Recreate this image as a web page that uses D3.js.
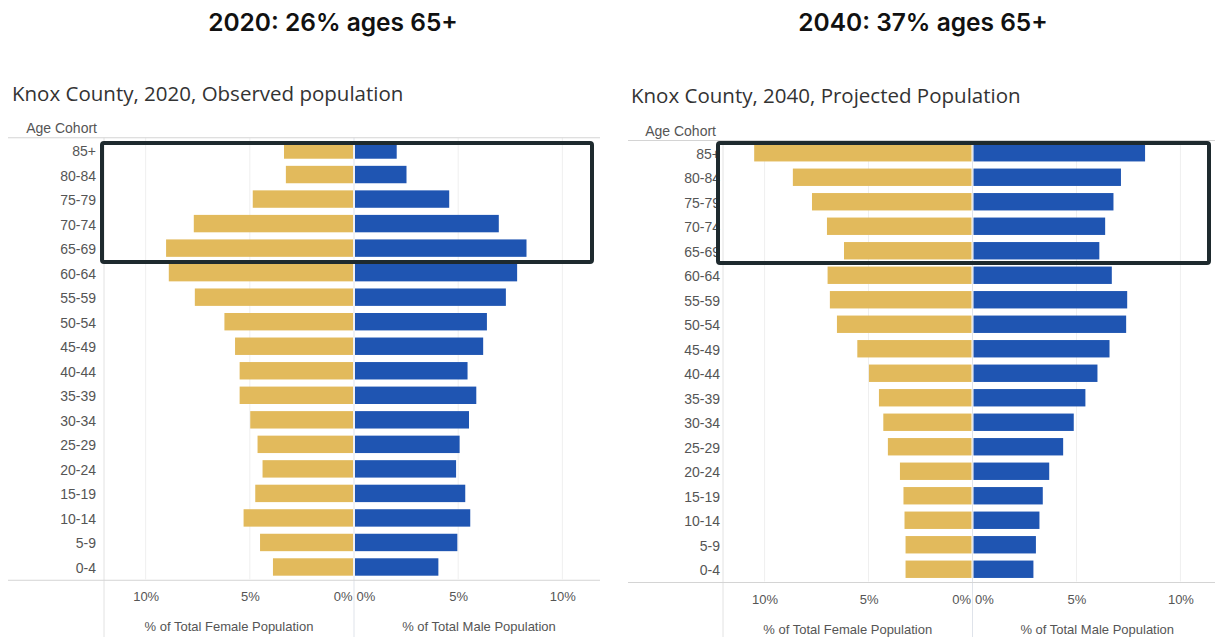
<!DOCTYPE html>
<html>
<head>
<meta charset="utf-8">
<script src="https://cdn.jsdelivr.net/npm/d3@7"></script>
<style>
  html, body { margin: 0; padding: 0; background: #fff; }
  svg { display: block; }
</style>
</head>
<body>
<svg id="chart" width="1215" height="637"></svg>
<script>
// ---- data ----
const ageGroups = ["85+","80-84","75-79","70-74","65-69","60-64","55-59","50-54","45-49","40-44","35-39","30-34","25-29","20-24","15-19","10-14","5-9","0-4"];
const female2020 = [3.36,3.27,4.86,7.69,9.02,8.89,7.64,6.22,5.71,5.49,5.49,4.98,4.63,4.39,4.74,5.30,4.51,3.89];
const male2020   = [2.05,2.52,4.57,6.95,8.28,7.83,7.29,6.38,6.20,5.45,5.87,5.52,5.07,4.90,5.34,5.58,4.96,4.05];
const female2040 = [10.5,8.64,7.72,7.00,6.18,6.97,6.86,6.52,5.54,4.98,4.50,4.29,4.07,3.49,3.32,3.27,3.22,3.22];
const male2040   = [8.30,7.14,6.78,6.38,6.10,6.70,7.44,7.39,6.59,6.01,5.43,4.87,4.36,3.69,3.38,3.22,3.05,2.93];
const tickValues = [0,5,10];
const headings = ["2020: 26% ages 65+","2040: 37% ages 65+"];
const subtitles = ["Knox County, 2020, Observed population","Knox County, 2040, Projected Population"];
const femaleAxisTitle = "% of Total Female Population";
const maleAxisTitle = "% of Total Male Population";
const rowHeader = "Age Cohort";

const FEMALE = "#E2BA5C", MALE = "#1F55B2";
const svg = d3.select("#chart");

function drawPyramid(cfg, female, male, heading, subtitle) {
  const g = svg.append("g");
  const xF = d3.scaleLinear().domain([0, 12]).range([cfg.cx, cfg.plotLeft]);
  const xM = d3.scaleLinear().domain([0, 12]).range([cfg.cx, cfg.cx + (cfg.cx - cfg.plotLeft)]);
  const y = d3.scaleBand().domain(ageGroups).range([cfg.bandTop, cfg.bandBottom]).paddingInner(0.29).paddingOuter(0.145);

  // heading
  g.append("text").attr("x", cfg.headX).attr("y", 31).attr("text-anchor", "middle")
    .attr("font-family", "Inter, 'Noto Sans', sans-serif").attr("font-weight", 600)
    .attr("font-size", 24.5).attr("fill", "#111").text(heading);
  // subtitle
  g.append("text").attr("x", cfg.subX).attr("y", cfg.subY)
    .attr("font-family", "'Open Sans', sans-serif").attr("font-size", 20.5)
    .attr("fill", "#333").text(subtitle);

  // gridlines
  [5, 10].forEach(v => {
    [xF(v), xM(v)].forEach(px => {
      if (px <= cfg.lineRight) g.append("line").attr("x1", px).attr("x2", px)
        .attr("y1", cfg.bandTop).attr("y2", cfg.bandBottom)
        .attr("stroke", "#efefef").attr("stroke-width", 1);
    });
  });
  // left plot edge + center line (extend through axis area)
  g.append("line").attr("x1", cfg.plotLeft).attr("x2", cfg.plotLeft)
    .attr("y1", cfg.bandTop).attr("y2", 637).attr("stroke", "#e2e2e2");
  g.append("line").attr("x1", cfg.cx).attr("x2", cfg.cx)
    .attr("y1", cfg.bandTop).attr("y2", 637).attr("stroke", "#dfe3ea");

  // horizontal lines
  g.append("line").attr("x1", cfg.lineLeft).attr("x2", cfg.lineRight)
    .attr("y1", cfg.bandTop).attr("y2", cfg.bandTop).attr("stroke", "#d4d4d4");
  g.append("line").attr("x1", cfg.lineLeft).attr("x2", cfg.lineRight)
    .attr("y1", cfg.bandBottom + 1).attr("y2", cfg.bandBottom + 1).attr("stroke", "#d4d4d4");

  // bars
  g.selectAll(".f").data(ageGroups).join("rect")
    .attr("x", (d, i) => xF(female[i])).attr("y", d => y(d))
    .attr("width", (d, i) => xF(0) - xF(female[i]) - 1).attr("height", y.bandwidth())
    .attr("fill", FEMALE);
  g.selectAll(".m").data(ageGroups).join("rect")
    .attr("x", xM(0) + 1).attr("y", d => y(d))
    .attr("width", (d, i) => xM(male[i]) - xM(0) - 1).attr("height", y.bandwidth())
    .attr("fill", MALE);

  // y axis labels
  const ya = g.append("g").attr("transform", `translate(${cfg.labelX},1.5)`)
    .call(d3.axisLeft(y).tickSize(0).tickPadding(0));
  ya.select(".domain").remove();
  ya.selectAll("text").attr("font-family", "'Liberation Sans', Arial, sans-serif")
    .attr("font-size", 14).attr("fill", "#555");
  g.append("text").attr("x", cfg.plotLeft - 7).attr("y", cfg.bandTop - 5)
    .attr("text-anchor", "end").attr("font-family", "'Liberation Sans', Arial, sans-serif")
    .attr("font-size", 14).attr("fill", "#555").text(rowHeader);

  // x axes
  const axY = cfg.bandBottom + 13;
  const fa = g.append("g").attr("transform", `translate(0,${axY})`)
    .call(d3.axisBottom(xF).tickValues(tickValues).tickFormat(d => d + "%").tickSize(0).tickPadding(0));
  fa.select(".domain").remove();
  fa.selectAll("text").filter(d => d === 0).attr("text-anchor", "end").attr("dx", -2);
  const ma = g.append("g").attr("transform", `translate(0,${axY})`)
    .call(d3.axisBottom(xM).tickValues(tickValues).tickFormat(d => d + "%").tickSize(0).tickPadding(0));
  ma.select(".domain").remove();
  ma.selectAll("text").filter(d => d === 0).attr("text-anchor", "start").attr("dx", 2);
  [fa, ma].forEach(a => a.selectAll("text").attr("font-family", "'Liberation Sans', Arial, sans-serif")
    .attr("font-size", 13).attr("fill", "#555"));

  g.append("text").attr("x", (cfg.plotLeft + cfg.cx) / 2).attr("y", cfg.bandBottom + 52)
    .attr("text-anchor", "middle").attr("font-family", "'Liberation Sans', Arial, sans-serif")
    .attr("font-size", 13).attr("fill", "#555").text(femaleAxisTitle);
  g.append("text").attr("x", cfg.cx + (cfg.cx - cfg.plotLeft) / 2).attr("y", cfg.bandBottom + 52)
    .attr("text-anchor", "middle").attr("font-family", "'Liberation Sans', Arial, sans-serif")
    .attr("font-size", 13).attr("fill", "#555").text(maleAxisTitle);

  // highlight box around 65+ rows
  const b = cfg.box;
  g.append("rect").attr("x", b[0]).attr("y", b[1])
    .attr("width", b[2] - b[0]).attr("height", b[3] - b[1])
    .attr("rx", 2).attr("fill", "none").attr("stroke", "#1E2A2E").attr("stroke-width", 4);
}

drawPyramid({cx: 354, plotLeft: 104, labelX: 96, bandTop: 137.75, bandBottom: 579.25, lineLeft: 8, lineRight: 600,
  headX: 333, subX: 12, subY: 101, box: [102, 143, 592, 262]}, female2020, male2020, headings[0], subtitles[0]);
drawPyramid({cx: 972.5, plotLeft: 723, labelX: 720, bandTop: 140.5, bandBottom: 581.5, lineLeft: 628, lineRight: 1215,
  headX: 923, subX: 631, subY: 103, box: [718, 143, 1209, 263]}, female2040, male2040, headings[1], subtitles[1]);
</script>
</body>
</html>
